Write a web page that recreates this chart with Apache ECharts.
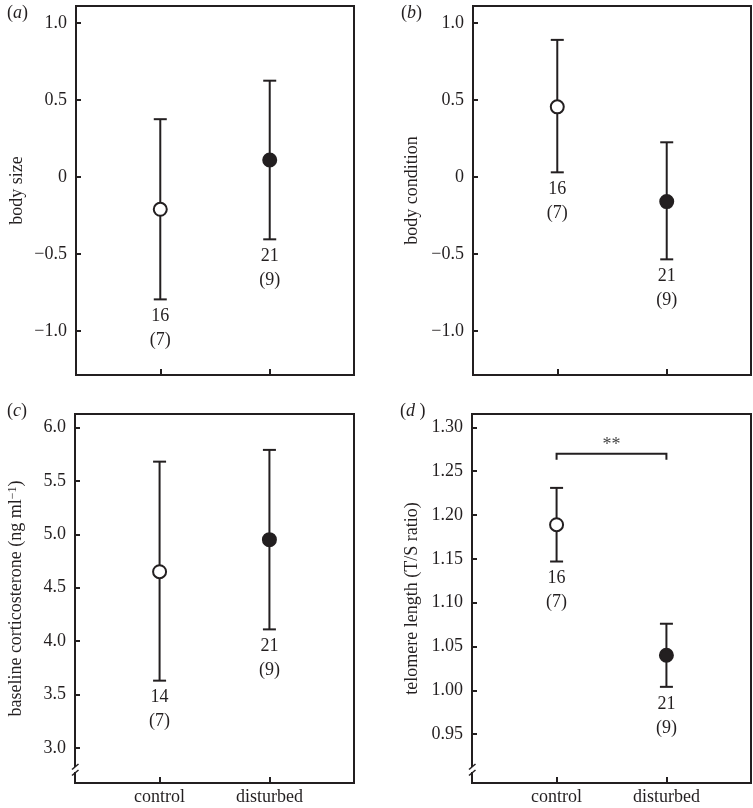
<!DOCTYPE html>
<html>
<head>
<meta charset="utf-8">
<script src="https://cdn.jsdelivr.net/npm/echarts@6/dist/echarts.min.js"></script>
<style>html,body{margin:0;padding:0;background:#fff}#c{width:753px;height:808px}</style>
</head>
<body>
<div id="c"></div>
<script>
// ---- data ----
const categories = ['control', 'disturbed'];
const panelLetters = ['a', 'b', 'c', 'd'];
const yNames = ['body size', 'body condition', 'baseline corticosterone (ng ml{sup|\u22121})', 'telomere length (T/S ratio)'];

const bodySizeMean = [-0.21, 0.11];
const bodySizeLower = [-0.795, -0.405];
const bodySizeUpper = [0.375, 0.625];

const bodyCondMean = [0.455, -0.16];
const bodyCondLower = [0.03, -0.535];
const bodyCondUpper = [0.89, 0.225];

const corticoMean = [4.65, 4.95];
const corticoLower = [3.63, 4.11];
const corticoUpper = [5.68, 5.79];

const telomereMean = [1.189, 1.040];
const telomereLower = [1.147, 1.004];
const telomereUpper = [1.231, 1.076];

const sizeN = [16, 21];
const condN = [16, 21];
const corticoN = [14, 21];
const telomereN = [16, 21];
const birdsN = [7, 9];

const sizeTicks = [-1.0, -0.5, 0, 0.5, 1.0];
const condTicks = [-1.0, -0.5, 0, 0.5, 1.0];
const corticoTicks = [3.0, 3.5, 4.0, 4.5, 5.0, 5.5, 6.0];
const telomereTicks = [0.95, 1.00, 1.05, 1.10, 1.15, 1.20, 1.25, 1.30];

const bracketFrom = [0];
const bracketTo = [1];
const bracketTop = [1.27];
const bracketEnd = [1.263];
const bracketText = ['**'];

// ---- style ----
const FF = '"Liberation Serif", "Times New Roman", serif';
const INK = '#231f20';
const FS = 18;

const grids = [
  {left: 76, top: 6, width: 278, height: 369},
  {left: 473, top: 6, width: 278, height: 369},
  {left: 75, top: 414, width: 279, height: 369},
  {left: 472, top: 414, width: 279, height: 369}
];
const yRanges = [[-1.286, 1.11], [-1.286, 1.11], [2.672, 6.126], [0.8943, 1.3153]];
const decimals = [1, 1, 1, 2];
const tickSets = [sizeTicks, condTicks, corticoTicks, telomereTicks];
const panels = [
  {mean: bodySizeMean, lo: bodySizeLower, hi: bodySizeUpper, n: sizeN},
  {mean: bodyCondMean, lo: bodyCondLower, hi: bodyCondUpper, n: condN},
  {mean: corticoMean, lo: corticoLower, hi: corticoUpper, n: corticoN},
  {mean: telomereMean, lo: telomereLower, hi: telomereUpper, n: telomereN}
];
const nameGaps = [50, 52, 50, 51];
const showXLabels = [false, false, true, true];
const hasBreak = [false, false, true, true];

function fmt(v, d) {
  if (Math.abs(v) < 1e-9) return '0';
  const s = Math.abs(v).toFixed(d);
  return v < 0 ? '\u2212' + s : s;
}

const option = {
  animation: false,
  backgroundColor: '#fff',
  textStyle: {fontFamily: FF, color: INK},
  grid: grids.map(g => Object.assign({show: true, borderColor: INK, borderWidth: 2, backgroundColor: 'transparent', containLabel: false}, g)),
  xAxis: grids.map((g, i) => ({
    type: 'value', gridIndex: i, min: -0.77, max: 1.77, position: 'bottom',
    splitLine: {show: false},
    axisLine: {show: false, onZero: false},
    axisTick: {show: true, inside: true, length: 6, lineStyle: {color: INK, width: 2}, customValues: [0, 1]},
    axisLabel: {show: showXLabels[i], customValues: [0, 1], margin: 5, fontSize: FS, fontFamily: FF, color: INK,
      formatter: v => categories[Math.round(v)] || ''}
  })),
  yAxis: grids.map((g, i) => ({
    type: 'value', gridIndex: i, min: yRanges[i][0], max: yRanges[i][1], position: 'left',
    name: yNames[i], nameLocation: 'middle', nameGap: nameGaps[i],
    nameTextStyle: {fontSize: FS, fontFamily: FF, color: INK,
      rich: {sup: {fontSize: 12, fontFamily: FF, color: INK, verticalAlign: 'top'}}},
    splitLine: {show: false},
    axisLine: {show: false, onZero: false},
    axisTick: {show: true, inside: true, length: 5, lineStyle: {color: INK, width: 2}, customValues: tickSets[i]},
    axisLabel: {customValues: tickSets[i], margin: 9, fontSize: FS, fontFamily: FF, color: INK,
      formatter: v => fmt(v, decimals[i])}
  })),
  series: [],
  graphic: []
};

panels.forEach((p, i) => {
  const barData = categories.map((c, k) => [k, p.lo[k], p.hi[k], p.n[k], birdsN[k]]);
  option.series.push({
    type: 'custom', xAxisIndex: i, yAxisIndex: i, z: 2,
    data: barData,
    renderItem: function (params, api) {
      const x = api.value(0);
      const lo = api.coord([x, api.value(1)]);
      const hi = api.coord([x, api.value(2)]);
      const cw = 6.5;
      const ls = {stroke: INK, lineWidth: 2, fill: null};
      return {
        type: 'group',
        children: [
          {type: 'line', shape: {x1: lo[0], y1: lo[1], x2: hi[0], y2: hi[1]}, style: ls},
          {type: 'line', shape: {x1: lo[0] - cw, y1: lo[1], x2: lo[0] + cw, y2: lo[1]}, style: ls},
          {type: 'line', shape: {x1: hi[0] - cw, y1: hi[1], x2: hi[0] + cw, y2: hi[1]}, style: ls},
          {type: 'text', x: lo[0], y: lo[1] + 5,
            style: {text: api.value(3) + '\n(' + api.value(4) + ')', align: 'center', verticalAlign: 'top',
              fontSize: FS, lineHeight: 24, fontFamily: FF, fill: INK}}
        ]
      };
    }
  });
  option.series.push({
    type: 'scatter', xAxisIndex: i, yAxisIndex: i, z: 5,
    symbol: 'circle', symbolSize: 13,
    data: categories.map((c, k) => ({
      value: [k, p.mean[k]],
      itemStyle: {color: k === 0 ? '#ffffff' : INK, borderColor: INK, borderWidth: 2, opacity: 1}
    }))
  });
});

// significance bracket in panel d
option.series.push({
  type: 'custom', xAxisIndex: 3, yAxisIndex: 3, z: 3,
  data: bracketFrom.map((f, k) => [f, bracketTo[k], bracketTop[k], bracketEnd[k]]),
  renderItem: function (params, api) {
    const a = api.coord([api.value(0), api.value(2)]);
    const b = api.coord([api.value(1), api.value(2)]);
    const ae = api.coord([api.value(0), api.value(3)]);
    const be = api.coord([api.value(1), api.value(3)]);
    return {
      type: 'group',
      children: [
        {type: 'polyline', shape: {points: [ae, a, b, be]}, style: {stroke: INK, lineWidth: 2, fill: null}},
        {type: 'text', x: (a[0] + b[0]) / 2, y: a[1] + 1,
          style: {text: bracketText[params.dataIndex], align: 'center', verticalAlign: 'bottom',
            fontSize: FS, fontFamily: FF, fill: '#444'}}
      ]
    };
  }
});

// panel letters
const letterPos = [[7, 4], [401, 4], [7, 402], [400, 402]];
panelLetters.forEach((l, i) => {
  option.graphic.push({
    type: 'text', left: letterPos[i][0], top: letterPos[i][1], z: 100,
    style: {text: '({i|' + l + '}' + (l === 'd' ? ' ' : '') + ')', fontSize: FS, fontFamily: FF, fill: INK,
      rich: {i: {fontStyle: 'italic', fontSize: FS, fontFamily: FF, fill: INK}}}
  });
});

// axis break marks on panels c and d
grids.forEach((g, i) => {
  if (!hasBreak[i]) return;
  const ax = g.left;
  const B = g.top + g.height;
  option.graphic.push({type: 'rect', z: 100, shape: {x: ax - 3, y: B - 16, width: 6, height: 5}, style: {fill: '#fff'}});
  option.graphic.push({type: 'line', z: 101, shape: {x1: ax - 3, y1: B - 13.5, x2: ax + 3.5, y2: B - 19}, style: {stroke: INK, lineWidth: 1.5}});
  option.graphic.push({type: 'line', z: 101, shape: {x1: ax - 3, y1: B - 7.5, x2: ax + 3.5, y2: B - 13}, style: {stroke: INK, lineWidth: 1.5}});
});

const chart = echarts.init(document.getElementById('c'), null, {renderer: 'canvas'});
chart.setOption(option);
</script>
</body>
</html>
